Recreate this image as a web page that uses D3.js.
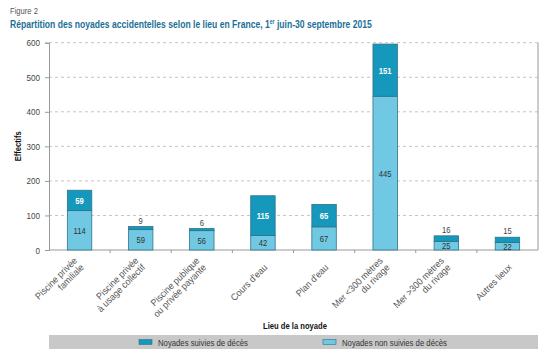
<!DOCTYPE html>
<html><head><meta charset="utf-8">
<script src="https://cdn.jsdelivr.net/npm/d3@7"></script>
<style>
body{margin:0;background:#fff}
svg{display:block}
text{font-family:"Liberation Sans Narrow","Arial Narrow","Liberation Sans",sans-serif}
</style></head>
<body>
<svg id="c" width="550" height="364"></svg>
<script>
const categories = [
  ["Piscine privée","familiale"],
  ["Piscine privée","à usage collectif"],
  ["Piscine publique","ou privée payante"],
  ["Cours d'eau"],
  ["Plan d'eau"],
  ["Mer <300 mètres","du rivage"],
  ["Mer >300 mètres","du rivage"],
  ["Autres lieux"]
];
const deces = [59, 9, 6, 115, 65, 151, 16, 15];
const nonDeces = [114, 59, 56, 42, 67, 445, 25, 22];
const yTicks = [0, 100, 200, 300, 400, 500, 600];
const seriesNames = ["Noyades suivies de décès", "Noyades non suivies de décès"];
const titleParts = ["Répartition des noyades accidentelles selon le lieu en France, 1", "er", " juin-30 septembre 2015"];

(function(){
const darkC = "#1598bb", lightC = "#70c8e2", strokeC = "#2f7389";
const svg = d3.select("#c");
const pL = 49, pR = 538, pT = 42.7, pB = 250;

function condense(sel, k) {
  sel.each(function() {
    const len = this.getComputedTextLength();
    d3.select(this).attr("textLength", len * k).attr("lengthAdjust", "spacingAndGlyphs");
  });
  return sel;
}

const x = d3.scaleBand().domain(d3.range(categories.length)).range([pL, pR]).paddingInner(0.6).paddingOuter(0.3);
const y = d3.scaleLinear().domain([0, 600]).range([pB, pT]);

// header
condense(svg.append("text").attr("x", 10).attr("y", 14).attr("font-size", 9.5).attr("fill", "#555").text("Figure 2"), 0.8);
const t = svg.append("text").attr("transform", "translate(10,28) scale(0.78,1)").attr("font-size", 11)
  .attr("font-weight", "bold").attr("fill", "#1b6f97");
t.append("tspan").text(titleParts[0]);
t.append("tspan").attr("font-size", 6.5).attr("dy", -4.5).text(titleParts[1]);
t.append("tspan").attr("dy", 4.5).text(titleParts[2]);

// gridlines
svg.append("g").selectAll("line").data(yTicks.filter(d => d > 0)).join("line")
  .attr("x1", pL).attr("x2", pR).attr("y1", d => y(d)).attr("y2", d => y(d))
  .attr("stroke", "#b5b5b5").attr("stroke-width", 0.8).attr("stroke-dasharray", "3,3");

// y axis
const ya = svg.append("g").attr("transform", `translate(${pL},0)`).call(d3.axisLeft(y).tickValues(yTicks).tickSize(4).tickPadding(5));
ya.select(".domain").attr("stroke", "#999");
ya.selectAll(".tick line").attr("stroke", "#999");
ya.selectAll("text").attr("font-size", 9.5).attr("fill", "#444").attr("font-family", '"Liberation Sans Narrow","Arial Narrow","Liberation Sans",sans-serif');
condense(ya.selectAll("text"), 0.85);
// right border
svg.append("line").attr("x1", pR).attr("x2", pR).attr("y1", pT).attr("y2", pB).attr("stroke", "#999").attr("stroke-width", 1);

// x axis
svg.append("line").attr("x1", pL).attr("x2", pR).attr("y1", pB).attr("y2", pB).attr("stroke", "#999");
svg.append("g").selectAll("line").data(d3.range(1, categories.length)).join("line")
  .attr("x1", i => pL + i * (pR - pL) / categories.length).attr("x2", i => pL + i * (pR - pL) / categories.length)
  .attr("y1", pB).attr("y2", pB + 3).attr("stroke", "#999");

// y title
condense(svg.append("text").attr("transform", `translate(21,${(pT + pB) / 2}) rotate(-90)`).attr("text-anchor", "middle")
  .attr("font-size", 9.5).attr("font-weight", "bold").attr("fill", "#111").text("Effectifs"), 0.8);

// bars
const g = svg.append("g");
categories.forEach((c, i) => {
  const bx = x(i), bw = x.bandwidth();
  const n = nonDeces[i], d = deces[i];
  g.append("rect").attr("x", bx).attr("y", y(n)).attr("width", bw).attr("height", y(0) - y(n))
    .attr("fill", lightC).attr("stroke", strokeC).attr("stroke-width", 0.8);
  g.append("rect").attr("x", bx).attr("y", y(n + d)).attr("width", bw).attr("height", y(n) - y(n + d))
    .attr("fill", darkC).attr("stroke", strokeC).attr("stroke-width", 0.8);
  const cx = bx + bw / 2;
  condense(g.append("text").attr("x", cx).attr("y", (y(0) + y(n)) / 2 + 3.5).attr("text-anchor", "middle")
    .attr("font-size", 9).attr("fill", "#333").text(n), 0.85);
  if (d >= 30) {
    condense(g.append("text").attr("x", cx).attr("y", (y(n) + y(n + d)) / 2 + 3.5).attr("text-anchor", "middle")
      .attr("font-size", 9).attr("font-weight", "bold").attr("fill", "#fff").text(d), 0.85);
  } else {
    condense(g.append("text").attr("x", cx).attr("y", y(n + d) - 3).attr("text-anchor", "middle")
      .attr("font-size", 9).attr("fill", "#444").text(d), 0.85);
  }
  const ax = cx + 5, ay = 268;
  const lbl = svg.append("text").attr("transform", `translate(${ax},${ay}) rotate(-45)`).attr("text-anchor", "end")
    .attr("font-size", 9.5).attr("fill", "#555");
  c.forEach((l, k) => {
    condense(lbl.append("tspan").attr("x", 0).attr("y", (k - (c.length - 1)) * 9.5).text(l), 0.93);
  });
});

// x title
condense(svg.append("text").attr("x", 295).attr("y", 329).attr("text-anchor", "middle").attr("font-size", 9.5)
  .attr("font-weight", "bold").attr("fill", "#111").text("Lieu de la noyade"), 0.8);

// legend
svg.append("rect").attr("x", 49).attr("y", 335).attr("width", 489).attr("height", 14).attr("fill", "#c8c8c8");
const leg = [{x: 139, c: darkC, t: seriesNames[0]}, {x: 323, c: lightC, t: seriesNames[1]}];
leg.forEach(l => {
  svg.append("rect").attr("x", l.x).attr("y", 339.5).attr("width", 13).attr("height", 5).attr("fill", l.c).attr("stroke", strokeC).attr("stroke-width", 0.6);
  condense(svg.append("text").attr("x", l.x + 19).attr("y", 345.5).attr("font-size", 9).attr("fill", "#333").text(l.t), 0.86);
});
})();
</script>
</body></html>
